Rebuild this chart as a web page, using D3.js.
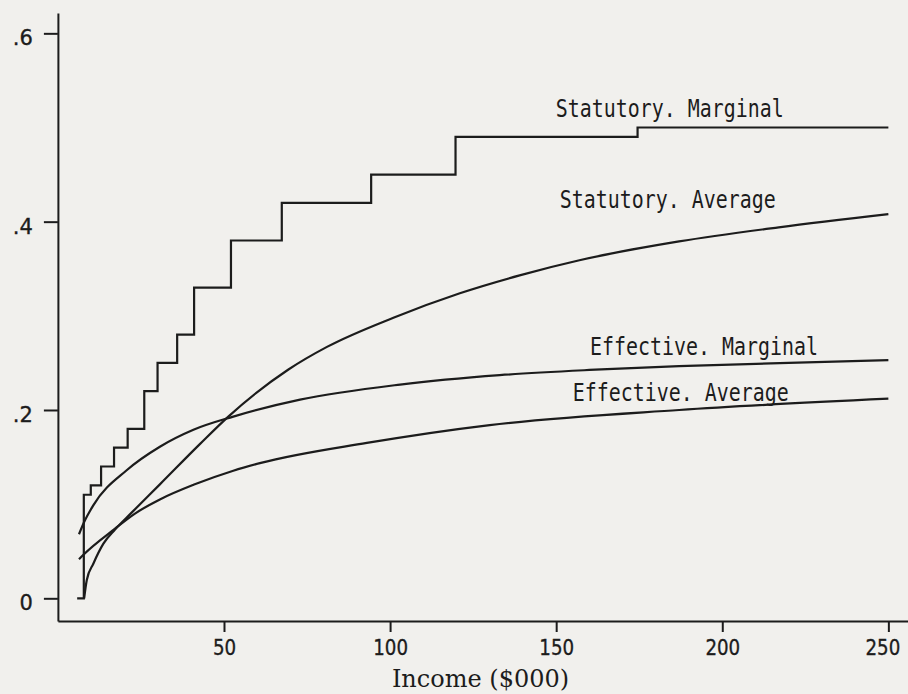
<!DOCTYPE html>
<html>
<head>
<meta charset="utf-8">
<script src="https://cdn.jsdelivr.net/npm/d3@7"></script>
<style>
  html, body { margin: 0; padding: 0; background: #f1f0ed; }
  svg { display: block; }
</style>
</head>
<body>
<svg id="chart" width="908" height="694"></svg>
<script>
// Income in thousands of dollars, tax rates as a share of income.

// Statutory marginal rate: each rate applies from its income threshold on.
const statMarginalIncome = [5.8, 7.8, 9.9, 13.0, 16.9, 21.0, 26.0, 30.0, 35.9, 41.0, 52.1, 67.4, 94.3, 119.7, 174.5, 250];
const statMarginalRate   = [0, 0.11, 0.12, 0.14, 0.16, 0.18, 0.22, 0.25, 0.28, 0.33, 0.38, 0.42, 0.45, 0.49, 0.50, 0.50];

// Statutory average rate
const statAverageIncome = [7.9, 8.7, 10.7, 13.7, 17.2, 22.2, 30.7, 42.8, 51.3, 69.4, 81, 101, 121, 139, 157, 187, 217, 250];
const statAverageRate   = [0, 0.0195, 0.037, 0.058, 0.073, 0.091, 0.121, 0.164, 0.193, 0.243, 0.267, 0.298, 0.324, 0.343, 0.359, 0.379, 0.394, 0.408];

// Effective marginal rate
const effMarginalIncome = [6.35, 7.9, 10.7, 20.7, 30.7, 40.8, 52.8, 72.9, 103, 133, 160, 187, 220, 250];
const effMarginalRate   = [0.068, 0.081, 0.099, 0.136, 0.161, 0.179, 0.193, 0.211, 0.227, 0.237, 0.2425, 0.2465, 0.250, 0.253];

// Effective average rate
const effAverageIncome = [6.35, 7.6, 17.2, 23.2, 30.7, 40.8, 52.8, 60.8, 93, 130, 187, 250];
const effAverageRate   = [0.0415, 0.046, 0.074, 0.090, 0.105, 0.1205, 0.1355, 0.1435, 0.165, 0.184, 0.200, 0.212];

const seriesNames = ["Statutory. Marginal", "Statutory. Average", "Effective. Marginal", "Effective. Average"];

const xTicks = [50, 100, 150, 200, 250];
const yTicks = [0, 0.2, 0.4, 0.6];
const yTickLabels = ["0", ".2", ".4", ".6"];
const xTitle = "Income ($000)";

// ---- layout ----
const ink = "#1c1c1c";
const svg = d3.select("#chart");

const x = d3.scaleLinear().domain([0, 256]).range([57.9, 908.3]);
const y = d3.scaleLinear().domain([-0.0241, 0.6216]).range([621, 13]);

const tickFont = "'DejaVu Sans', 'Noto Sans', sans-serif";

// x axis
const gx = svg.append("g")
  .attr("transform", `translate(0,${y.range()[0]})`)
  .call(d3.axisBottom(x).tickValues(xTicks).tickSize(11).tickSizeOuter(0).tickPadding(8));

// y axis
const gy = svg.append("g")
  .attr("transform", `translate(${x(0)},0)`)
  .call(d3.axisLeft(y).tickValues(yTicks).tickFormat((d, i) => yTickLabels[i])
        .tickSize(14).tickSizeOuter(0).tickPadding(11));

[gx, gy].forEach(g => {
  g.selectAll(".domain, .tick line").attr("stroke", ink).attr("stroke-width", 2);
  g.selectAll("text")
    .attr("fill", ink)
    .attr("stroke", ink).attr("stroke-width", 0.35)
    .style("font-family", tickFont).style("font-size", "21px");
});
// slightly narrow digits on the income axis; the last label is pulled in from the edge
gx.selectAll("text")
  .attr("textLength", function () { return this.textContent.length * 11.6; })
  .attr("lengthAdjust", "spacingAndGlyphs")
  .attr("dx", d => d === xTicks[xTicks.length - 1] ? -6 : 0);
gy.selectAll("text").attr("dy", "11.6px");

// axis title
svg.append("text")
  .attr("x", 480.5).attr("y", 687)
  .attr("text-anchor", "middle")
  .style("font-family", "'DejaVu Serif', 'Liberation Serif', serif")
  .style("font-size", "24px")
  .attr("fill", ink)
  .text(xTitle);

// ---- series ----
const zip = (xs, ys) => xs.map((v, i) => [v, ys[i]]);

const smooth = d3.line().x(d => x(d[0])).y(d => y(d[1])).curve(d3.curveMonotoneX);
const steps  = d3.line().x(d => x(d[0])).y(d => y(d[1])).curve(d3.curveStepAfter);

const series = [
  { name: seriesNames[0], pts: zip(statMarginalIncome, statMarginalRate), gen: steps },
  { name: seriesNames[1], pts: zip(statAverageIncome, statAverageRate), gen: smooth },
  { name: seriesNames[2], pts: zip(effMarginalIncome, effMarginalRate), gen: smooth },
  { name: seriesNames[3], pts: zip(effAverageIncome, effAverageRate), gen: smooth }
];

svg.append("g").selectAll("path")
  .data(series)
  .join("path")
  .attr("d", s => s.gen(s.pts))
  .attr("fill", "none")
  .attr("stroke", ink)
  .attr("stroke-width", 2.2)
  .attr("stroke-linejoin", "miter");

// series labels, anchored in data coordinates (left edge, baseline)
const labelAnchor = {
  "Statutory. Marginal": [149.9, 0.511],
  "Statutory. Average":  [151.1, 0.414],
  "Effective. Marginal": [160.2, 0.2584],
  "Effective. Average":  [155.0, 0.2095]
};

svg.append("g").selectAll("text")
  .data(seriesNames)
  .join("text")
  .attr("x", d => x(labelAnchor[d][0]))
  .attr("y", d => y(labelAnchor[d][1]))
  .attr("textLength", d => d.length * 12)
  .attr("lengthAdjust", "spacingAndGlyphs")
  .style("font-family", "'DejaVu Sans Mono', monospace")
  .style("font-size", "24px")
  .attr("fill", ink)
  .text(d => d);
</script>
</body>
</html>
